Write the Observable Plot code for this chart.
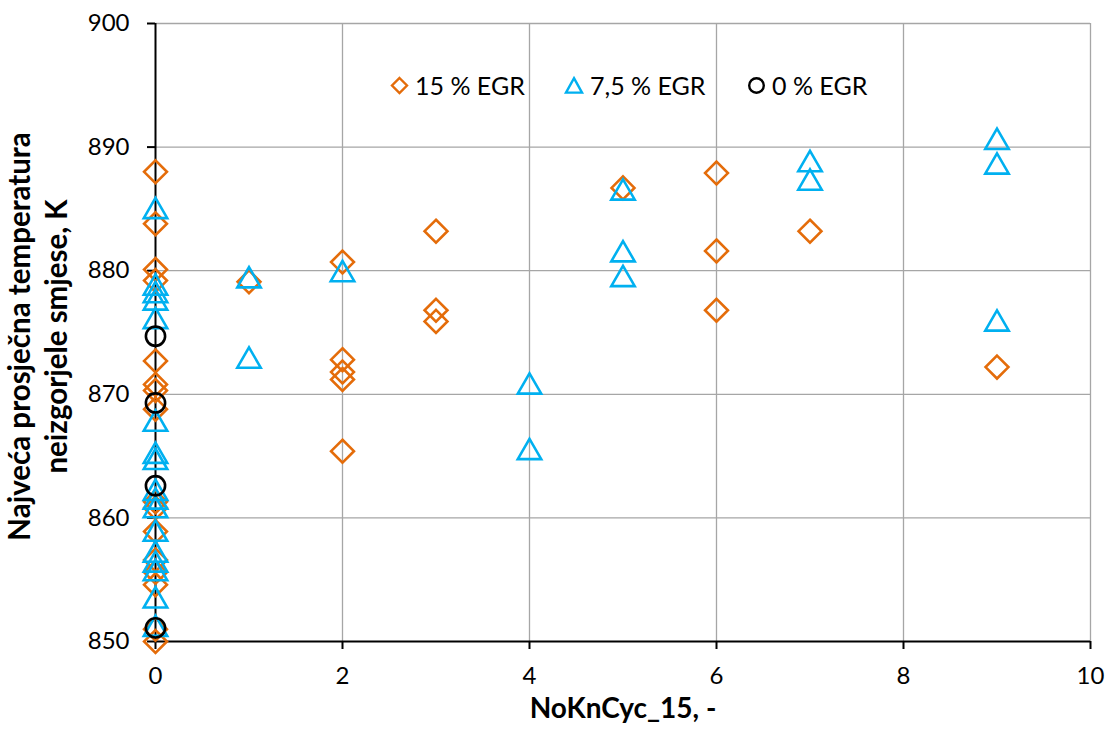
<!DOCTYPE html>
<html>
<head>
<meta charset="utf-8">
<script src="https://cdn.jsdelivr.net/npm/d3@7"></script>
<script src="https://cdn.jsdelivr.net/npm/@observablehq/plot@0.6"></script>
<style>
  body { margin: 0; background: #fff; }
  #wrap { position: relative; width: 1106px; height: 733px; font-family: Lato, "Open Sans", sans-serif; }
  .leg { position: absolute; top: 70px; display: flex; align-items: center; font-size: 25px; color: #000; white-space: nowrap; }
  .leg svg { margin-right: 7px; overflow: visible; }
</style>
</head>
<body>
<div id="wrap"></div>
<script>
// ---- data ----
const xTicks = [0, 2, 4, 6, 8, 10];
const yTicks = [850, 860, 870, 880, 890, 900];

const seriesNames = ["15 % EGR", "7,5 % EGR", "0 % EGR"];

const egr15X = [0,0,0,0,0,0,0,0,0,0,0,0,0,0,0,0, 1, 2,2,2,2,2, 3,3,3, 5, 6,6,6, 7, 9];
const egr15Y = [888.0,883.8,880.1,879.2,872.7,870.8,870.3,868.8,861.3,860.8,858.9,856.6,855.6,854.6,851.0,850.0,
                879.1, 880.7,872.8,871.8,871.2,865.4, 883.2,876.8,875.9, 886.7, 887.9,881.6,876.8, 883.2, 872.2];

const egr75X = [0,0,0,0,0,0,0,0,0,0,0,0,0,0,0,0,0, 1,1, 2, 4,4, 5,5,5, 7,7, 9,9,9];
const egr75Y = [884.8,878.6,878.0,877.4,875.9,867.6,865.0,864.5,862.0,861.3,860.6,858.7,857.0,856.2,855.5,853.3,851.0,
                879.2,872.7, 879.7, 870.6,865.3, 886.3,881.3,879.3, 888.6,887.1, 890.4,888.4,875.7];

const egr0X = [0,0,0,0];
const egr0Y = [874.7, 869.3, 862.6, 851.1];

const xTitle = "NoKnCyc_15, -";
const yTitle = "Najveća prosječna temperatura\nneizgorjele smjese, K";

// ---- build tables ----
const d15 = egr15X.map((x, i) => ({x, y: egr15Y[i]}));
const d75 = egr75X.map((x, i) => ({x, y: egr75Y[i]}));
const d0 = egr0X.map((x, i) => ({x, y: egr0Y[i]}));

const orange = "#E46C0A";
const blue = "#00B0F0";
const grid = "#a6a6a6";

const chart = Plot.plot({
  width: 1106,
  height: 733,
  marginLeft: 155,
  marginRight: 16,
  marginTop: 23,
  marginBottom: 92,
  style: { fontFamily: "Lato, 'Open Sans', sans-serif", fontSize: "24px", color: "#000", background: "#fff" },
  x: { domain: [0, 10] },
  y: { domain: [850, 900] },
  marks: [
    Plot.gridX(xTicks.filter(d => d > 0), { stroke: grid, strokeOpacity: 1, strokeWidth: 1.3 }),
    Plot.gridY(yTicks.filter(d => d > 850), { stroke: grid, strokeOpacity: 1, strokeWidth: 1.3 }),
    Plot.ruleX([0], { stroke: "#000", strokeWidth: 2 }),
    Plot.ruleY([850], { stroke: "#000", strokeWidth: 2 }),
    Plot.axisX(xTicks, { tickSize: 8, tickPadding: 17, strokeWidth: 2, fontSize: 24, label: null }),
    Plot.axisY(yTicks, { tickSize: 8, tickPadding: 18, strokeWidth: 2, fontSize: 24, label: null }),
    Plot.dot(d15, { x: "x", y: "y", symbol: "diamond2", r: 10.3, stroke: orange, strokeWidth: 2.6, fill: "none" }),
    Plot.dot(d75, { x: "x", y: "y", symbol: "triangle2", r: 11.2, stroke: blue, strokeWidth: 2.6, fill: "none" }),
    Plot.dot(d0, { x: "x", y: "y", symbol: "circle", r: 9.6, stroke: "#000", strokeWidth: 2.6, fill: "none" }),
    Plot.text([yTitle], { frameAnchor: "left", textAnchor: "middle", lineAnchor: "middle", rotate: -90, dx: -119, dy: 4, fontSize: 29.5, fontWeight: "bold", lineHeight: 1.26 }),
    Plot.text([xTitle], { frameAnchor: "bottom", textAnchor: "middle", dy: 76, fontSize: 28, fontWeight: "bold" })
  ]
});

const wrap = document.getElementById("wrap");
wrap.appendChild(chart);

// ---- legend (HTML overlay inside the plot area) ----
const legendItems = [
  { name: seriesNames[0], left: 391, svg: `<svg width="17" height="17" viewBox="-8.5 -8.5 17 17"><path d="M0,-7.5L7.5,0L0,7.5L-7.5,0Z" fill="none" stroke="${orange}" stroke-width="2.4"/></svg>` },
  { name: seriesNames[1], left: 565, svg: `<svg width="18" height="17" viewBox="-9 -9 18 17"><path d="M0,-7.8L8,6.6L-8,6.6Z" fill="none" stroke="${blue}" stroke-width="2.4"/></svg>` },
  { name: seriesNames[2], left: 748, svg: `<svg width="17" height="17" viewBox="-8.5 -8.5 17 17"><circle r="7.3" fill="none" stroke="#000" stroke-width="2.4"/></svg>` }
];
for (const it of legendItems) {
  const div = document.createElement("div");
  div.className = "leg";
  div.style.left = it.left + "px";
  div.innerHTML = it.svg + `<span>${it.name}</span>`;
  wrap.appendChild(div);
}
</script>
</body>
</html>
